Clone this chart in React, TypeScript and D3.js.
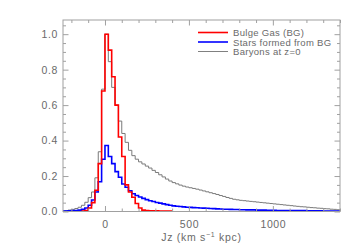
import React, { useEffect, useRef } from "react";
import * as d3 from "d3";

// Histogram bins, 20 km/s kpc wide
const binWidth = 20;

const redStart = -140;
const redValues = [
  0.003, 0.006, 0.02, 0.05, 0.12, 0.27, 0.68,
  1.0, 0.91, 0.76, 0.6, 0.42, 0.31, 0.15, 0.11, 0.08, 0.045, 0.02, 0.008,
  0.005, 0.004, 0.004, 0.004, 0.003, 0.003, 0.003, 0.003,
];

const blueStart = -260;
const blueValues = [
  0.002, 0.003, 0.004, 0.005, 0.006, 0.008, 0.012, 0.02, 0.035, 0.065, 0.11, 0.168, 0.295,
  0.372, 0.31, 0.27, 0.225, 0.193, 0.155, 0.137, 0.117, 0.1, 0.09, 0.082, 0.074, 0.067,
  0.061, 0.056, 0.051, 0.047, 0.043, 0.039, 0.035, 0.032, 0.03, 0.028, 0.026, 0.024,
  0.023, 0.022, 0.021, 0.02, 0.019, 0.018, 0.017, 0.016, 0.015, 0.014,
  0.013, 0.013, 0.012, 0.011, 0.011, 0.01, 0.01, 0.009, 0.009, 0.009,
  0.008, 0.008, 0.008, 0.007, 0.007, 0.007, 0.006, 0.006, 0.006, 0.006,
  0.005, 0.005, 0.005, 0.005, 0.005, 0.004, 0.004, 0.004, 0.004, 0.004,
  0.003, 0.003, 0.003, 0.003, 0.003,
];

const grayStart = -260;
const grayValues = [
  0.003, 0.005, 0.008, 0.012, 0.017, 0.024, 0.035, 0.052, 0.078, 0.11, 0.19, 0.337, 0.69,
  1.0, 0.845, 0.7, 0.6, 0.51, 0.44, 0.39, 0.345, 0.315, 0.295, 0.28, 0.268, 0.256, 0.245,
  0.232, 0.22, 0.207, 0.195, 0.183, 0.172, 0.163, 0.156, 0.149, 0.143, 0.138, 0.134,
  0.13, 0.126, 0.121, 0.116, 0.111, 0.106, 0.101, 0.096, 0.09, 0.085, 0.079, 0.074,
  0.069, 0.066, 0.063, 0.061, 0.059, 0.057, 0.055, 0.053, 0.051, 0.049, 0.047, 0.045,
  0.043, 0.041, 0.039, 0.037, 0.035, 0.033, 0.031, 0.029, 0.027, 0.026, 0.024, 0.022,
  0.021, 0.019, 0.018, 0.016, 0.015, 0.013, 0.012, 0.01,
];

const xMajorTicks = [0, 500, 1000];
const yMajorTicks = [0, 0.2, 0.4, 0.6, 0.8, 1.0];

const legendItems = [
  { label: "Bulge Gas (BG)", color: "#ff0000" },
  { label: "Stars formed from BG", color: "#0000ff" },
  { label: "Baryons at z=0", color: "#808080" },
];

const App: React.FC = () => {
  const chartRef = useRef<HTMLDivElement>(null);

  useEffect(() => {
    if (!chartRef.current) return;
    const container = d3.select(chartRef.current);
    container.selectAll("*").remove();

    const width = 360;
    const height = 252;
    const left = 63, right = 340, top = 20, bottom = 211.5;
    const axisColor = "#a0a0a0";
    const textColor = "#6a6a6a";
    const font = "'Liberation Sans', Arial, sans-serif";

    const svg = container
      .append("svg")
      .attr("width", width)
      .attr("height", height)
      .style("position", "absolute")
      .style("left", "0px")
      .style("top", "0px")
      .style("background", "#fff");

    const x = d3.scaleLinear().domain([-250, 1400]).range([left, right]);
    const y = d3.scaleLinear().domain([0, 1.08]).range([bottom, top]);

    svg.append("defs").append("clipPath").attr("id", "plot-clip")
      .append("rect")
      .attr("x", left).attr("y", top)
      .attr("width", right - left).attr("height", bottom - top);

    // Histograms
    const toPoints = (start: number, values: number[]) => {
      const pts: [number, number][] = values.map((v, i) => [start + i * binWidth, v]);
      pts.push([start + values.length * binWidth, values[values.length - 1]]);
      return pts;
    };
    const line = d3.line<[number, number]>()
      .x((d) => x(d[0]))
      .y((d) => y(d[1]))
      .curve(d3.curveStepAfter);

    const series = [
      { start: grayStart, values: grayValues, color: "#7a7a7a", w: 1 },
      { start: blueStart, values: blueValues, color: "#0000ff", w: 1.6 },
      { start: redStart, values: redValues, color: "#ff0000", w: 1.6 },
    ];
    const plot = svg.append("g").attr("clip-path", "url(#plot-clip)");
    series.forEach((s) => {
      plot.append("path")
        .attr("d", line(toPoints(s.start, s.values)) || "")
        .attr("fill", "none")
        .attr("stroke", s.color)
        .attr("stroke-width", s.w);
    });

    // Axes box
    svg.append("rect")
      .attr("x", left).attr("y", top)
      .attr("width", right - left).attr("height", bottom - top)
      .attr("fill", "none")
      .attr("stroke", axisColor)
      .attr("stroke-width", 1);

    const styleAxis = (g: d3.Selection<SVGGElement, unknown, null, undefined>) => {
      g.select(".domain").remove();
      g.selectAll("line").attr("stroke", axisColor);
      g.selectAll("text")
        .attr("fill", textColor)
        .style("font-family", font)
        .style("font-size", "10.5px")
        .style("letter-spacing", "0.6px");
    };

    const xMinor = d3.range(-200, 1401, 100).filter((d) => !xMajorTicks.includes(d));
    const yMinor = d3.range(0.05, 1.08, 0.05).filter((d) => Math.abs(d * 5 - Math.round(d * 5)) > 1e-6);

    // bottom
    svg.append("g").attr("transform", `translate(0,${bottom})`)
      .call(d3.axisBottom(x).tickValues(xMajorTicks).tickSize(-5.5).tickPadding(9).tickFormat(d3.format("d")))
      .call(styleAxis);
    svg.append("g").attr("transform", `translate(0,${bottom})`)
      .call(d3.axisBottom(x).tickValues(xMinor).tickSize(-3).tickFormat(() => ""))
      .call(styleAxis);
    // top
    svg.append("g").attr("transform", `translate(0,${top})`)
      .call(d3.axisTop(x).tickValues(xMajorTicks).tickSize(-5.5).tickFormat(() => ""))
      .call(styleAxis);
    svg.append("g").attr("transform", `translate(0,${top})`)
      .call(d3.axisTop(x).tickValues(xMinor).tickSize(-3).tickFormat(() => ""))
      .call(styleAxis);
    // left
    svg.append("g").attr("transform", `translate(${left},0)`)
      .call(d3.axisLeft(y).tickValues(yMajorTicks).tickSize(-5.5).tickPadding(5).tickFormat(d3.format(".1f")))
      .call(styleAxis);
    svg.append("g").attr("transform", `translate(${left},0)`)
      .call(d3.axisLeft(y).tickValues(yMinor).tickSize(-3).tickFormat(() => ""))
      .call(styleAxis);
    // right
    svg.append("g").attr("transform", `translate(${right},0)`)
      .call(d3.axisRight(y).tickValues(yMajorTicks).tickSize(-5.5).tickFormat(() => ""))
      .call(styleAxis);
    svg.append("g").attr("transform", `translate(${right},0)`)
      .call(d3.axisRight(y).tickValues(yMinor).tickSize(-3).tickFormat(() => ""))
      .call(styleAxis);

    // X title
    const title = svg.append("text")
      .attr("x", (left + right) / 2)
      .attr("y", 241)
      .attr("text-anchor", "middle")
      .attr("fill", textColor)
      .style("font-family", font)
      .style("font-size", "10.5px")
      .style("letter-spacing", "0.7px");
    title.append("tspan").text("Jz (km s");
    title.append("tspan").attr("dy", -4).style("font-size", "7px").text("−1");
    title.append("tspan").attr("dy", 4).text(" kpc)");

    // Legend
    const legend = svg.append("g");
    legendItems.forEach((item, i) => {
      const ly = 32.5 + i * 9.5;
      legend.append("line")
        .attr("x1", 198).attr("x2", 228)
        .attr("y1", ly).attr("y2", ly)
        .attr("stroke", item.color)
        .attr("stroke-width", i === 2 ? 1 : 1.6);
      legend.append("text")
        .attr("x", 233)
        .attr("y", ly + 3.5)
        .attr("fill", textColor)
        .style("font-family", font)
        .style("font-size", "9.5px")
        .style("letter-spacing", "0.3px")
        .text(item.label);
    });
  }, []);

  return <div ref={chartRef} style={{ width: 360, height: 252 }}></div>;
};

export default App;
